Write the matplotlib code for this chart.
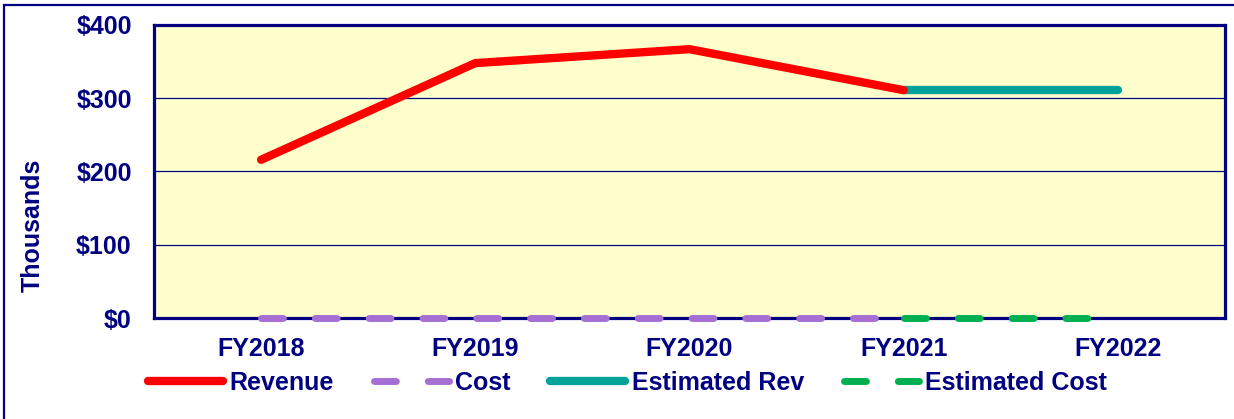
import matplotlib.pyplot as plt
import matplotlib.patches as patches
import numpy as np

plt.rcParams['font.family'] = ['Liberation Sans', 'DejaVu Sans']
plt.rcParams['font.weight'] = 'bold'

navy = '#000080'

categories = ['FY2018', 'FY2019', 'FY2020', 'FY2021', 'FY2022']
revenue = [216, 348, 367, 311, np.nan]
cost = [0, 0, 0, 0, np.nan]
est_rev = [np.nan, np.nan, np.nan, 311, 311]
est_cost = [np.nan, np.nan, np.nan, 0, 0]
yticks = [0, 100, 200, 300, 400]
ytick_labels = ['$0', '$100', '$200', '$300', '$400']

x = np.arange(len(categories)) + 0.5

fig = plt.figure(figsize=(12.34, 4.19), dpi=100)
ax = fig.add_axes([154 / 1234, 1 - 318 / 419, 1071 / 1234, 293 / 419])
ax.set_facecolor('#FFFFCC')

# outer frame (only top and left edges visible in the picture)
frame = patches.Rectangle((4 / 1234, -0.2), 1.2, 1.2 - 5 / 419,
                          transform=fig.transFigure, fill=False,
                          edgecolor=navy, linewidth=1.6, zorder=0)
fig.patches.append(frame)

ax.plot(x, revenue, color='#FF0000', lw=6, solid_capstyle='round',
        label='Revenue', zorder=4)
ax.plot(x, cost, color='#A66FD3', lw=5, dashes=(3.15, 4.6),
        dash_capstyle='round', label='Cost', clip_on=False, zorder=5)
ax.plot(x, est_rev, color='#00A29A', lw=6, solid_capstyle='round',
        label='Estimated Rev', zorder=3)
ax.plot(x, est_cost, color='#00B050', lw=5, dashes=(3.15, 4.6),
        dash_capstyle='round', label='Estimated Cost', clip_on=False, zorder=5)

ax.set_xlim(0, len(categories))
ax.set_ylim(0, 400)
ax.set_xticks(x)
ax.set_xticklabels(categories)
ax.set_yticks(yticks)
ax.set_yticklabels(ytick_labels)
ax.tick_params(axis='both', length=0, labelsize=18, labelcolor=navy)
ax.tick_params(axis='y', pad=16)
ax.tick_params(axis='x', pad=14)
ax.grid(axis='y', color=navy, lw=0.9)
ax.set_axisbelow(True)
for s in ax.spines.values():
    s.set_color(navy)
    s.set_linewidth(2.3)

ax.set_ylabel('Thousands', fontsize=18, color=navy, fontweight='bold')
ax.yaxis.set_label_coords(-0.102, 0.317)

fig.legend(loc='center left', bbox_to_anchor=(148 / 1234, 1 - 383 / 419),
           ncol=4, frameon=False, fontsize=18, labelcolor=navy,
           handlelength=3.0, handletextpad=0.25, columnspacing=1.6,
           borderpad=0, borderaxespad=0)

fig.savefig('out.png', dpi=100)
